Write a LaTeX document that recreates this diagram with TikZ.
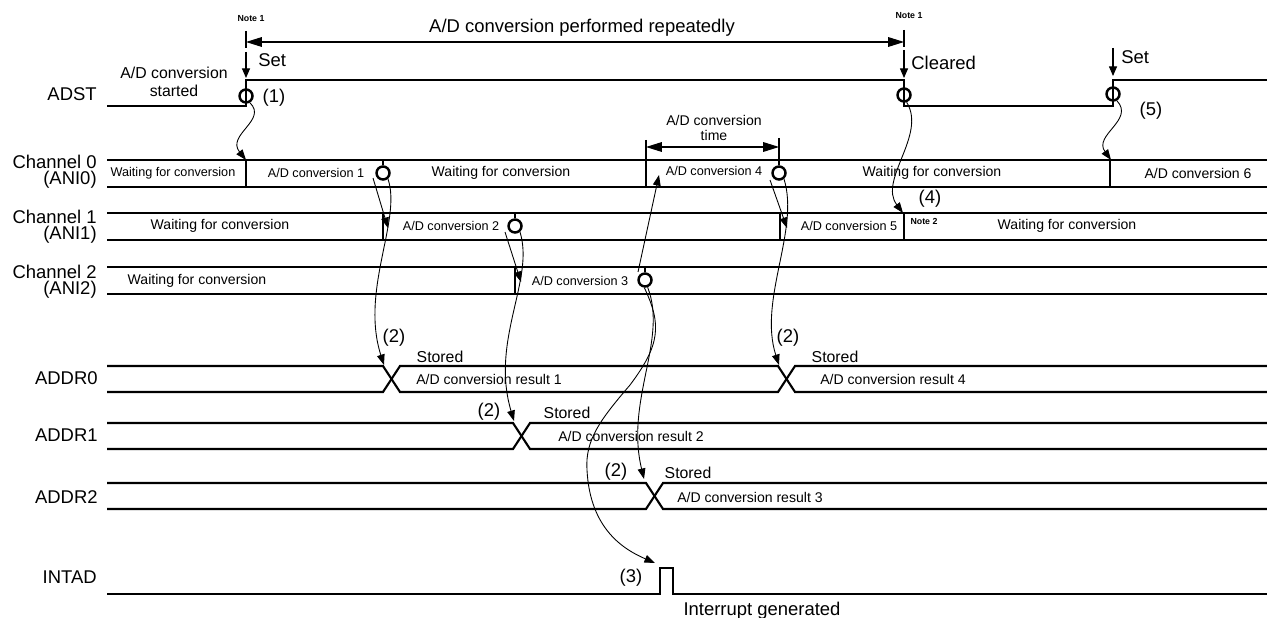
\documentclass[tikz,border=0pt]{standalone}
\usepackage{fontspec}
\setmainfont{Liberation Sans}
\usepackage{tikz}
\usetikzlibrary{arrows.meta, calc}
\definecolor{mydark}{RGB}{0,0,0}
\tikzset{
  sigline/.style={line width=1.2pt, color=mydark},
  thinline/.style={line width=0.6pt, color=mydark},
  flow/.style={-{Triangle[length=6pt, width=4.4pt]}, line width=0.5pt, color=mydark},
  setarrow/.style={-{Triangle[length=5.5pt, width=4.6pt]}, line width=0.6pt, color=mydark},
  spanarrow/.style={{Triangle[length=9pt, width=5.5pt]}-{Triangle[length=9pt, width=5.5pt]},
    line width=0.6pt, color=mydark},
  endmark/.style={circle, draw=mydark, line width=1.4pt, minimum size=0.26cm, inner sep=0pt},
  siglabel/.style={anchor=east, align=right, inner sep=0pt, font=\fontsize{10.5}{9.2}\selectfont},
  bigtxt/.style={inner sep=0pt, font=\fontsize{10.5}{11}\selectfont},
  midtxt/.style={inner sep=0pt, align=center, font=\fontsize{9}{10.2}\selectfont},
  rowtxt/.style={inner sep=0pt, align=center, font=\fontsize{8}{8.6}\selectfont},
  cvtxt/.style={inner sep=0pt, font=\fontsize{7.2}{8}\selectfont},
  notetxt/.style={inner sep=0pt, font=\fontsize{5}{6}\selectfont\bfseries}
}

\begin{document}
\begin{tikzpicture}[x=0.02cm, y=-0.02cm]
  \useasboundingbox (0,0) rectangle (1267,618);

  % Signal names
  \node[siglabel] (lADST) at (97,94) {ADST};
  \node[siglabel] (lCH0) at (97,172) {Channel 0\\(ANI0)};
  \node[siglabel] (lCH1) at (97,227) {Channel 1\\(ANI1)};
  \node[siglabel] (lCH2) at (97,282) {Channel 2\\(ANI2)};
  \node[siglabel] (lADDR0) at (98,378) {ADDR0};
  \node[siglabel] (lADDR1) at (98,435) {ADDR1};
  \node[siglabel] (lADDR2) at (98,497) {ADDR2};
  \node[siglabel] (lINTAD) at (97,577) {INTAD};

  % Repeated conversion span
  \coordinate (spanL) at (246,42);
  \coordinate (spanR) at (904,42);
  \draw[thinline] (246,31) -- (246,48);
  \draw[thinline] (904,30) -- (904,47);
  \draw[spanarrow] (spanL) -- (spanR);
  \node[bigtxt] (rep) at (582,28) {A/D conversion performed repeatedly};
  \node[notetxt] (note1a) at (251,19) {Note 1};
  \node[notetxt] (note1b) at (909,16) {Note 1};

  % ADST
  \draw[sigline] (107,106) -- (246,106) -- (246,80) -- (904,80) -- (904,106)
    -- (1113,106) -- (1113,80) -- (1267,80);
  \coordinate (setA) at (246,52);
  \coordinate (setAe) at (246,78);
  \coordinate (clr) at (904,50);
  \coordinate (clre) at (904,78);
  \coordinate (setB) at (1113,48);
  \coordinate (setBe) at (1113,76);
  \draw[setarrow] (setA) -- (setAe);
  \draw[setarrow] (clr) -- (clre);
  \draw[setarrow] (setB) -- (setBe);
  \node[bigtxt, anchor=west] (tSetA) at (258,60) {Set};
  \node[bigtxt, anchor=west] (tClr) at (911,63) {Cleared};
  \node[bigtxt, anchor=west] (tSetB) at (1121,57) {Set};
  \node[midtxt] (started) at (174,82) {A/D conversion\\started};
  \node[bigtxt] (n1) at (274,98) {(1)};
  \node[bigtxt] (n5) at (1151,111) {(5)};
  \node[endmark] (o1) at (246,96) {};
  \node[endmark] (o2) at (904,95) {};
  \node[endmark] (o3) at (1113,94) {};

  % Channel rows
  \foreach \y in {160,187,213,240,267,294}
    \draw[sigline] (107,\y) -- (1267,\y);
  \draw[thinline] (246,160) -- (246,187);
  \draw[thinline] (646,140) -- (646,187);
  \draw[thinline] (1110,160) -- (1110,187);
  \draw[thinline] (383,213) -- (383,240);
  \draw[thinline] (780,213) -- (780,240);
  \draw[thinline] (904,213) -- (904,240);
  \draw[thinline] (515,267) -- (515,294);

  \node[cvtxt] (w0a) at (173,173) {Waiting for conversion};
  \node[cvtxt] (cv1) at (316,173) {A/D conversion 1};
  \node[rowtxt] (w0b) at (501,173) {Waiting for conversion};
  \node[cvtxt] (cv4) at (714,171) {A/D conversion 4};
  \node[rowtxt] (w0c) at (932,173) {Waiting for conversion};
  \node[rowtxt] (cv6) at (1198,173) {A/D conversion 6};
  \node[rowtxt] (w1a) at (220,226) {Waiting for conversion};
  \node[cvtxt] (cv2) at (451,226) {A/D conversion 2};
  \node[cvtxt] (cv5) at (849,226) {A/D conversion 5};
  \node[notetxt] (note2) at (924,221) {Note 2};
  \node[rowtxt] (w1b) at (1067,226) {Waiting for conversion};
  \node[rowtxt] (w2a) at (197,281) {Waiting for conversion};
  \node[cvtxt] (cv3) at (580,281) {A/D conversion 3};

  \node[endmark] (c1) at (383,173) {};
  \node[endmark] (c4) at (779,173) {};
  \node[endmark] (c2) at (515,226) {};
  \node[endmark] (c3) at (645,280) {};
  \draw[thinline] (383,160) -- (c1.north);
  \draw[thinline] (779,138) -- (c4.north);
  \draw[thinline] (515,213) -- (c2.north);
  \draw[thinline] (645,267) -- (c3.north);

  % Conversion time
  \coordinate (ctL) at (646,147);
  \coordinate (ctR) at (779,147);
  \draw[spanarrow] (ctL) -- (ctR);
  \node[rowtxt] (ctime) at (714,128) {A/D conversion\\time};

  % ADDR rows
  \draw[sigline] (107,366) -- (383,366) -- (400,392) -- (778,392) -- (795,366) -- (1267,366);
  \draw[sigline] (107,392) -- (383,392) -- (400,366) -- (778,366) -- (795,392) -- (1267,392);
  \draw[sigline] (107,423) -- (513,423) -- (530,449) -- (1267,449);
  \draw[sigline] (107,449) -- (513,449) -- (530,423) -- (1267,423);
  \draw[sigline] (107,483) -- (646,483) -- (663,509) -- (1267,509);
  \draw[sigline] (107,509) -- (646,509) -- (663,483) -- (1267,483);

  \node[midtxt] (st0a) at (440,357) {Stored};
  \node[rowtxt, anchor=west] (r1) at (416,379) {A/D conversion result 1};
  \node[midtxt] (st0b) at (835,357) {Stored};
  \node[rowtxt, anchor=west] (r4) at (820,379) {A/D conversion result 4};
  \node[midtxt] (st1) at (567,413) {Stored};
  \node[rowtxt, anchor=west] (r2) at (558,436) {A/D conversion result 2};
  \node[midtxt] (st2) at (688,473) {Stored};
  \node[rowtxt, anchor=west] (r3) at (677,497) {A/D conversion result 3};
  \node[bigtxt] (n2a) at (394,338) {(2)};
  \node[bigtxt] (n2b) at (788,338) {(2)};
  \node[bigtxt] (n2c) at (489,412) {(2)};
  \node[bigtxt] (n2d) at (616,472) {(2)};

  % INTAD
  \draw[sigline] (107,594) -- (660,594) -- (660,568) -- (673,568) -- (673,594) -- (1267,594);
  \node[bigtxt] (n3) at (631,578) {(3)};
  \node[bigtxt] (irq) at (762,611) {Interrupt generated};

  % Flow arrows
  \coordinate (ch0a) at (246,160);
  \coordinate (ch0b) at (1111,160);
  \coordinate (ch1c) at (903,213);
  \draw[flow] (o1.-60) .. controls (268,120) and (226,135) .. (ch0a);
  \draw[flow] (o3.-60) .. controls (1135,120) and (1093,135) .. (ch0b);
  \draw[flow] (o2.-70) .. controls (927,135) and (878,180) .. (ch1c);
  \node[bigtxt] (n4) at (930,199) {(4)};

  \coordinate (s1) at (373,178);
  \coordinate (t1) at (388,228);
  \coordinate (s2) at (505,232);
  \coordinate (t2) at (521,282);
  \coordinate (s4) at (770,180);
  \coordinate (t4) at (787,228);
  \coordinate (s3) at (638,272);
  \coordinate (t3) at (659,175);
  \draw[flow] (s1) -- (t1);
  \draw[flow] (s2) -- (t2);
  \draw[flow] (s4) -- (t4);
  \draw[flow] (s3) -- (t3);

  \coordinate (x0a) at (384,365);
  \coordinate (x0b) at (779,365);
  \coordinate (x1a) at (514,421);
  \coordinate (x2a) at (644,479);
  \coordinate (intp) at (655,563);
  \draw[flow] (c1.-50) .. controls (402,220) and (360,290) .. (x0a);
  \draw[flow] (c4.-50) .. controls (800,230) and (758,300) .. (x0b);
  \draw[flow] (c2.-50) .. controls (535,280) and (490,340) .. (x1a);
  \draw[flow] (c3.-70) .. controls (668,340) and (625,400) .. (x2a);
  \draw[flow] (c3.-95) .. controls (662,325) and (660,345) .. (630,385)
    .. controls (600,420) and (585,440) .. (587,470)
    .. controls (590,530) and (625,550) .. (intp);
\end{tikzpicture}
\end{document}
